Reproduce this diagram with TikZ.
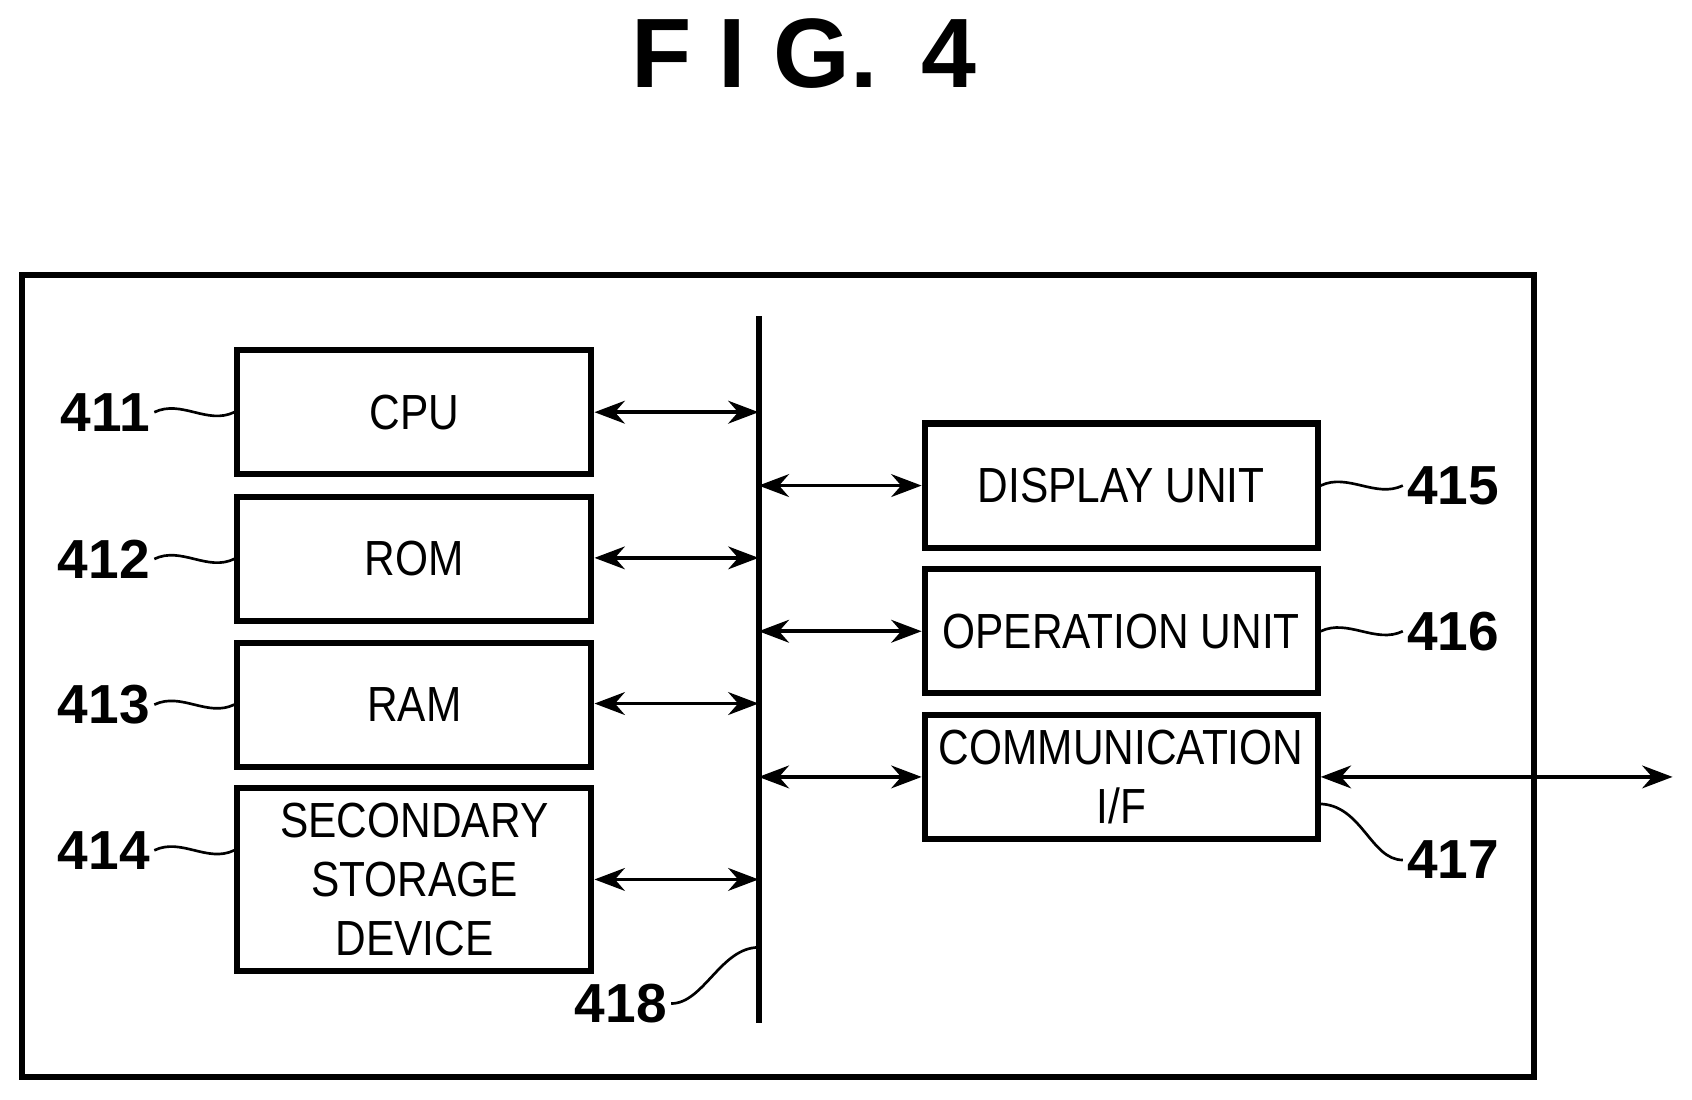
\documentclass[tikz,border=0pt]{standalone}
\usepackage{fontspec}
\setmainfont{Liberation Sans}
\newfontfamily\narrowsf{Liberation Sans}[FakeStretch=0.86]
\usetikzlibrary{arrows.meta}
\begin{document}
\begin{tikzpicture}[x=0.01cm,y=-0.01cm,
  blk/.style={draw, line width=1.6pt, align=center, font=\narrowsf\fontsize{13}{15.5}\selectfont, inner sep=0pt, minimum height=1.15cm},
  lblk/.style={blk, minimum width=3.28cm},
  rblk/.style={blk, minimum width=3.64cm},
  num/.style={font=\bfseries\fontsize{14.5}{17}\selectfont, inner sep=1pt},
  link/.style={line width=1pt, {Stealth[length=8pt,width=6pt]}-{Stealth[length=8pt,width=6pt]}},
  lead/.style={line width=0.7pt}]
\useasboundingbox (0,0) rectangle (1568,1019);
\node[font=\bfseries\fontsize{26}{30}\selectfont] (title) at (745,50) {F I G. \,4};
\draw[line width=1.6pt] (20,255) rectangle (1422,998);
% bus
\coordinate (bt) at (703,293);
\coordinate (bb) at (703,948);
\draw[line width=1.6pt] (bt) -- (bb);
% left blocks
\node[lblk] (cpu) at (384,382) {CPU};
\node[lblk] (rom) at (384,518) {ROM};
\node[lblk] (ram) at (384,653) {RAM};
\node[lblk, minimum height=1.7cm] (sec) at (384,815) {SECONDARY\\STORAGE\\DEVICE};
% right blocks
\node[rblk] (disp) at (1039,450) {DISPLAY UNIT};
\node[rblk] (oper) at (1039,585) {OPERATION UNIT};
\node[rblk] (comm) at (1039,720) {COMMUNICATION\\I/F};
% links
\foreach \b/\y in {cpu/382,rom/517,ram/652,sec/815}{
  \coordinate (b\b) at (703,\y);
  \draw[link] (\b.east |- b\b) -- (b\b);
}
\foreach \b/\y in {disp/450,oper/585,comm/720}{
  \coordinate (b\b) at (703,\y);
  \draw[link] (b\b) -- (\b.west |- b\b);
}
\coordinate (out) at (1550,720);
\draw[link] (comm.east) -- (out);
% reference numerals
\foreach \b/\n/\y in {cpu/411/382,rom/412/518,ram/413/653,sec/414/788}{
  \node[num, anchor=east] (n\n) at (143,\y) {\n};
  \draw[lead] (n\n.east) .. controls +(25,-12) and +(-25,12) .. (\b.west |- n\n);
}
\foreach \b/\n/\y in {disp/415/450,oper/416/585}{
  \node[num, anchor=west] (n\n) at (1300,\y) {\n};
  \draw[lead] (\b.east |- n\n) .. controls +(25,-12) and +(-25,12) .. (n\n.west);
}
\node[num, anchor=west] (n417) at (1300,797) {417};
\coordinate (c417) at (1222,745);
\draw[lead] (c417) .. controls +(40,0) and +(-30,0) .. (n417.west);
\node[num, anchor=east] (n418) at (622,930) {418};
\coordinate (c418) at (703,878);
\draw[lead] (n418.east) .. controls +(30,0) and +(-35,0) .. (c418);
\end{tikzpicture}
\end{document}
